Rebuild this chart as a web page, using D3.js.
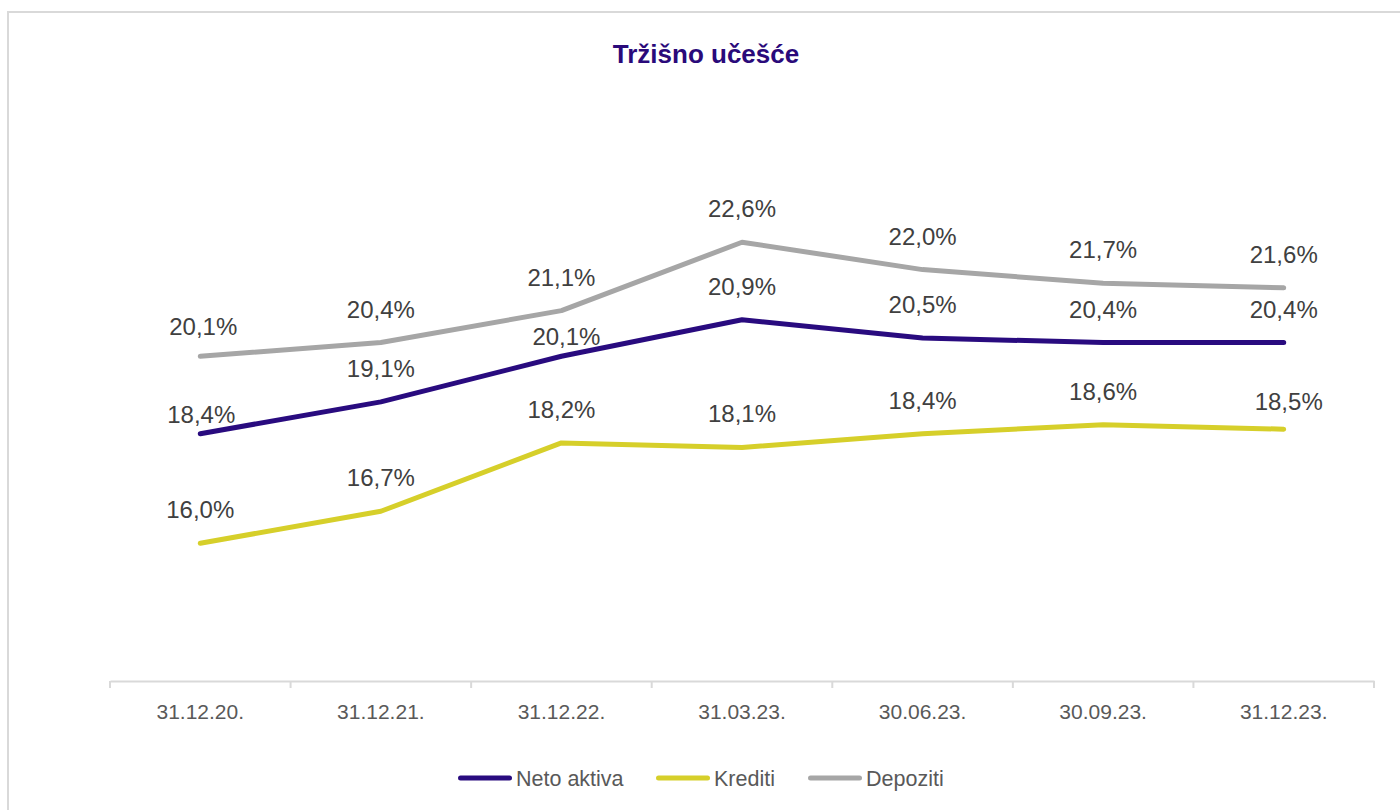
<!DOCTYPE html>
<html>
<head>
<meta charset="utf-8">
<script src="https://cdn.jsdelivr.net/npm/d3@7"></script>
<style>
  html, body { margin: 0; padding: 0; background: #ffffff; }
  svg { display: block; font-family: "Liberation Sans", Arial, sans-serif; }
</style>
</head>
<body>
<svg id="chart" width="1400" height="810"></svg>
<script>
// ---- data ----
const title = "Tržišno učešće";
const categories = ["31.12.20.", "31.12.21.", "31.12.22.", "31.03.23.", "30.06.23.", "30.09.23.", "31.12.23."];
const seriesNames = ["Neto aktiva", "Krediti", "Depoziti"];
const netoAktiva = [18.4, 19.1, 20.1, 20.9, 20.5, 20.4, 20.4];
const krediti    = [16.0, 16.7, 18.2, 18.1, 18.4, 18.6, 18.5];
const depoziti   = [20.1, 20.4, 21.1, 22.6, 22.0, 21.7, 21.6];
const yDomain = [13, 25];

// ---- styles ----
const colors = { "Neto aktiva": "#290b7f", "Krediti": "#d6cf2a", "Depoziti": "#a6a6a6" };
const series = [
  { name: seriesNames[0], values: netoAktiva },
  { name: seriesNames[1], values: krediti },
  { name: seriesNames[2], values: depoziti }
];
// manual label nudges (dx, dy relative to default placement), like the original chart
const labelNudge = {
  "Neto aktiva-0": [1, 14],
  "Neto aktiva-2": [5, 14],
  "Depoziti-0": [3, 4],
  "Krediti-6": [5, 6]
};

const svg = d3.select("#chart");

// frame
svg.append("rect")
  .attr("x", 8).attr("y", 12).attr("width", 1400).attr("height", 810)
  .attr("fill", "#ffffff").attr("stroke", "#d9d9d9").attr("stroke-width", 2);

const x = d3.scaleBand().domain(categories).range([110, 1374]).paddingInner(0).paddingOuter(0);
const y = d3.scaleLinear().domain(yDomain).range([680, 680 - 12 * 45.6]);

// title
svg.append("text")
  .attr("x", 706).attr("y", 63)
  .attr("text-anchor", "middle")
  .attr("font-size", 26).attr("font-weight", "bold")
  .attr("fill", "#2a0a7a")
  .text(title);

// x axis
const xAxis = d3.axisBottom(x).tickSize(0).tickPadding(0);
const gx = svg.append("g").attr("transform", "translate(0,681)").call(xAxis);
gx.select(".domain").attr("stroke", "#d9d9d9").attr("stroke-width", 2);
gx.selectAll(".tick text")
  .attr("font-size", 21).attr("fill", "#595959")
  .attr("font-family", "Liberation Sans, Arial, sans-serif")
  .attr("dy", null).attr("y", 38);
// category boundary ticks
const bounds = categories.map(c => x(c)).concat([x(categories[categories.length - 1]) + x.bandwidth()]);
svg.append("g").selectAll("line").data(bounds).join("line")
  .attr("x1", d => d).attr("x2", d => d)
  .attr("y1", 681).attr("y2", 688)
  .attr("stroke", "#d9d9d9").attr("stroke-width", 2);

const cx = c => x(c) + x.bandwidth() / 2;

// lines
const line = d3.line().x((d, i) => cx(categories[i])).y(d => y(d));
svg.append("g").selectAll("path").data(series).join("path")
  .attr("d", s => line(s.values))
  .attr("fill", "none")
  .attr("stroke", s => colors[s.name])
  .attr("stroke-width", 5)
  .attr("stroke-linecap", "round")
  .attr("stroke-linejoin", "round");

// data labels
const labels = [];
series.forEach(s => s.values.forEach((v, i) => labels.push({ s: s.name, i, v })));
svg.append("g").selectAll("text").data(labels).join("text")
  .attr("x", d => cx(categories[d.i]) + ((labelNudge[d.s + "-" + d.i] || [0, 0])[0]))
  .attr("y", d => y(d.v) - 25 + ((labelNudge[d.s + "-" + d.i] || [0, 0])[1]))
  .attr("text-anchor", "middle")
  .attr("font-size", 24)
  .attr("fill", "#404040")
  .text(d => d3.format(".1f")(d.v).replace(".", ",") + "%");

// legend
const legendItems = [
  { name: seriesNames[0], x0: 458 },
  { name: seriesNames[1], x0: 656 },
  { name: seriesNames[2], x0: 808 }
];
const lg = svg.append("g");
lg.selectAll("line").data(legendItems).join("line")
  .attr("x1", d => d.x0 + 2.5).attr("x2", d => d.x0 + 51.5)
  .attr("y1", 778).attr("y2", 778)
  .attr("stroke", d => colors[d.name])
  .attr("stroke-width", 5).attr("stroke-linecap", "round");
lg.selectAll("text").data(legendItems).join("text")
  .attr("x", d => d.x0 + 58).attr("y", 786)
  .attr("font-size", 21.5).attr("fill", "#595959")
  .text(d => d.name);
</script>
</body>
</html>
